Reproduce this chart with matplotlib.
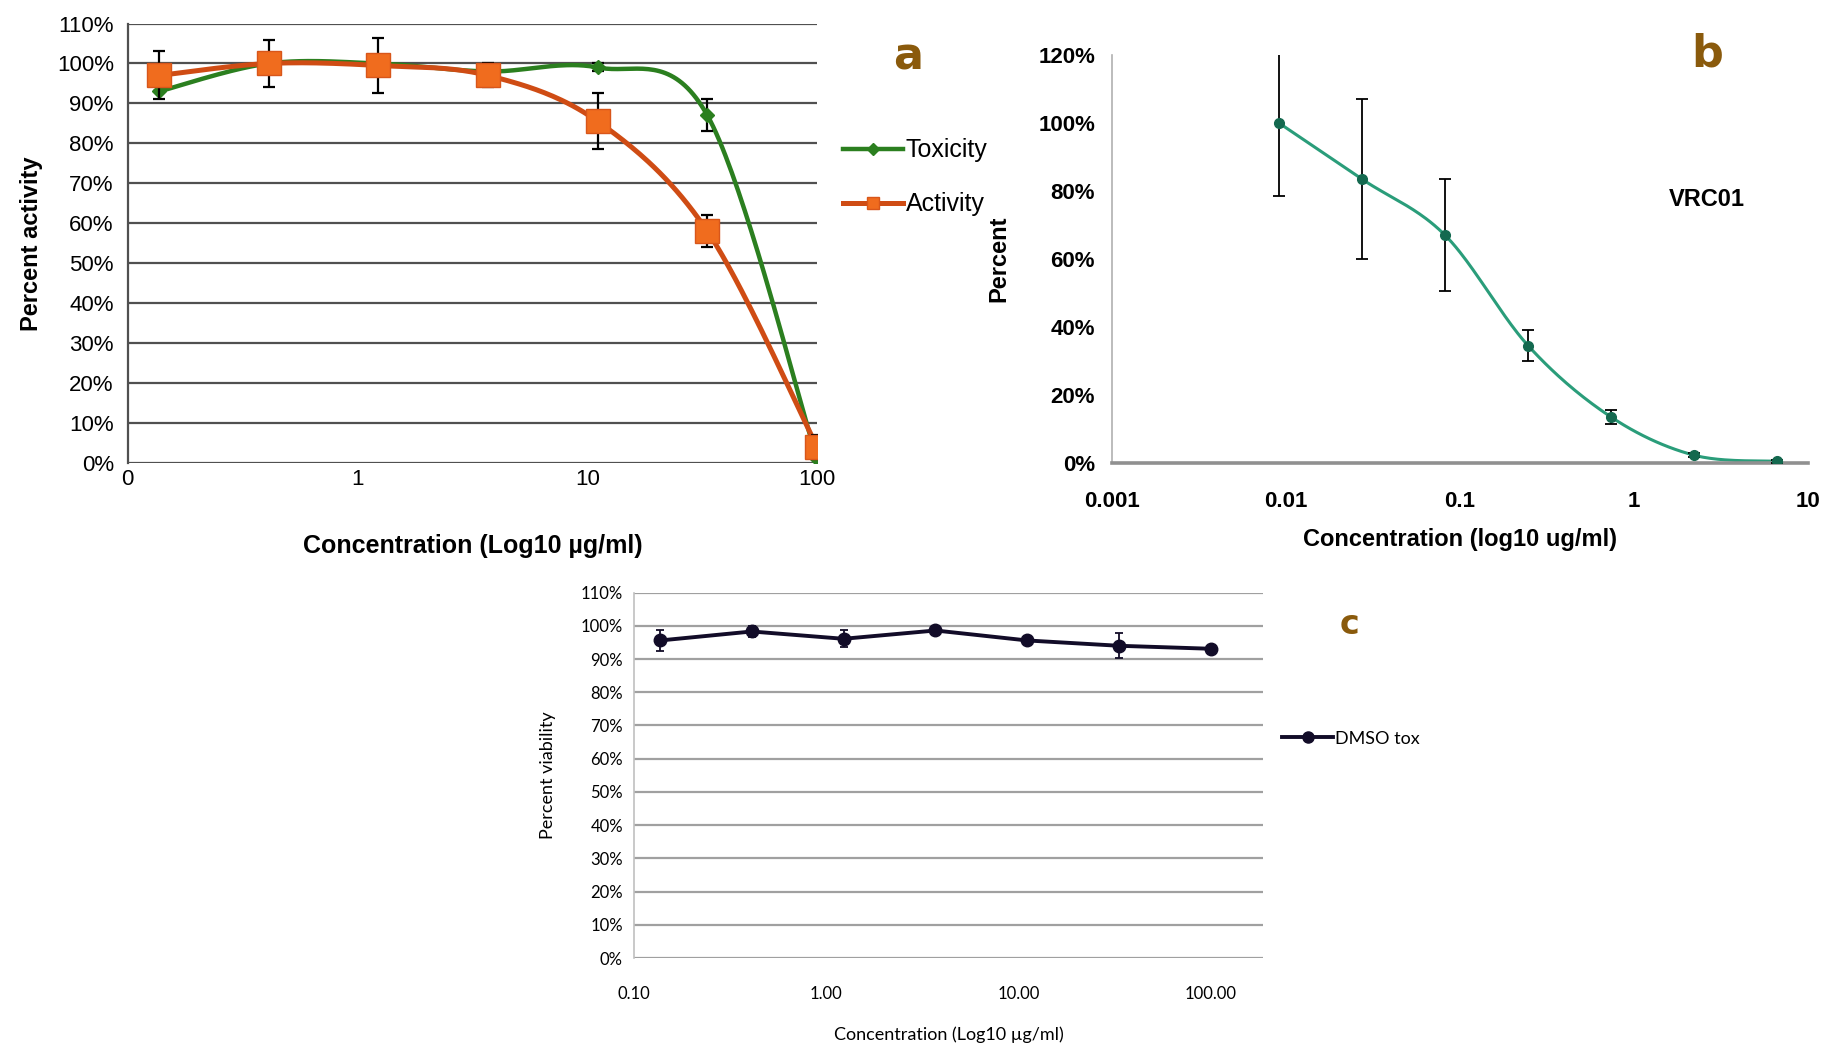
import numpy as np
import matplotlib
matplotlib.use("Agg")
from matplotlib import pyplot as plt
from matplotlib.lines import Line2D
from matplotlib.ticker import FixedLocator, FixedFormatter

# ---------- data
conc_a = [0.137, 0.41, 1.23, 3.7, 11.1, 33.3, 100]
tox = [93, 100, 100, 98, 99, 87, 1]
tox_err = [0, 0, 0, 0, 1, 4, 0]
act = [97, 100, 99.5, 97, 85.5, 58, 4]
act_err = [6, 6, 7, 3, 7, 4, 3]

conc_b = [0.00914, 0.0274, 0.0823, 0.247, 0.741, 2.22, 6.67]
vrc = [100, 83.5, 67, 34.5, 13.5, 2.3, 0.5]
vrc_err = [21.5, 23.5, 16.5, 4.5, 2, 0.6, 0.4]

conc_c = [0.137, 0.41, 1.23, 3.7, 11.1, 33.3, 100]
dmso = [95.6, 98.3, 96.1, 98.6, 95.6, 94.0, 93.1]
dmso_err = [3.2, 1.8, 2.5, 1.0, 1.2, 3.7, 0.5]

LETTER = "#8a5a0c"
NARROW = ["Liberation Sans", "DejaVu Sans"]
CAL = ["Lato", "DejaVu Sans"]


def smooth(x, y, n=40):
    # excel-like smoothed line (catmull-rom in log-x space)
    pts = np.column_stack([np.log10(x), y])
    P = np.vstack([pts[0], pts, pts[-1]])
    t = np.linspace(0, 1, n)[:, None]
    out = []
    for i in range(1, len(P) - 2):
        p0, p1, p2, p3 = P[i - 1], P[i], P[i + 1], P[i + 2]
        seg = 0.5 * (2 * p1 + (-p0 + p2) * t + (2 * p0 - 5 * p1 + 4 * p2 - p3) * t ** 2
                     + (-p0 + 3 * p1 - 3 * p2 + p3) * t ** 3)
        out.append(seg)
    res = np.vstack(out)
    return 10 ** res[:, 0], res[:, 1]


fig = plt.figure(figsize=(18.24, 10.5), dpi=100)

########### PANEL A
ax = fig.add_axes([0.070, 0.559, 0.378, 0.4186])
ax.set_xscale("log")
ax.set_xlim(0.1, 100)
ax.set_ylim(0, 110)
for v in range(0, 111, 10):
    ax.axhline(v, color="#505050", lw=1.6, zorder=0)
sx, sy = smooth(conc_a, tox)
ax.plot(sx, sy, color="#2b7f1f", lw=3.2, zorder=2)
sx, sy = smooth(conc_a, act)
ax.plot(sx, sy, color="#cf4c14", lw=3.6, zorder=3)
ax.errorbar(conc_a, tox, yerr=tox_err, fmt="D", ms=7, color="#2b7f1f",
            ecolor="black", elinewidth=1.6, capsize=4, capthick=1.6, zorder=4)
ax.errorbar(conc_a, act, yerr=act_err, fmt="s", ms=17, mfc="#f06c1e", mec="#d8561a",
            ecolor="black", elinewidth=1.6, capsize=4, capthick=1.6, zorder=5)
handles_a = [
    Line2D([], [], color="#2b7f1f", lw=3.2, marker="D", ms=6),
    Line2D([], [], color="#cf4c14", lw=3.6, marker="s", ms=9, mfc="#f06c1e", mec="#d8561a"),
]
ax.legend(handles_a, ["Toxicity", "Activity"], loc="upper left", bbox_to_anchor=(1.005, 0.79),
          frameon=False, prop={"family": NARROW, "size": 18}, handlelength=2.4,
          handletextpad=0.1, labelspacing=1.2)
ax.xaxis.set_major_locator(FixedLocator([0.1, 1, 10, 100]))
ax.xaxis.set_major_formatter(FixedFormatter(["0", "1", "10", "100"]))
ax.xaxis.set_minor_locator(FixedLocator([]))
ax.set_yticks(range(0, 111, 10))
ax.set_yticklabels([f"{v}%" for v in range(0, 111, 10)])
ax.tick_params(axis="y", length=0, labelsize=16, pad=10)
ax.tick_params(axis="x", length=0, labelsize=16, pad=4)
for lab in ax.get_xticklabels() + ax.get_yticklabels():
    lab.set_family(NARROW)
for s in ["top", "right", "bottom"]:
    ax.spines[s].set_visible(False)
ax.spines["left"].set_color("#505050")
ax.spines["left"].set_linewidth(1.6)
ax.set_xlabel("Concentration (Log10 µg/ml)", fontsize=18, fontweight="bold", family=NARROW,
              labelpad=32)
ax.set_ylabel("Percent activity", fontsize=17, fontweight="bold", family=NARROW, labelpad=10)
fig.text(0.498, 0.946, "a", fontsize=32, fontweight="bold", color=LETTER, ha="center", va="center")

########### PANEL B
bx = fig.add_axes([0.6095, 0.559, 0.3817, 0.3886])
bx.set_xscale("log")
bx.set_xlim(0.001, 10)
bx.set_ylim(0, 120)
sx, sy = smooth(conc_b, vrc)
bx.plot(sx, sy, color="#2a9d7a", lw=2.2, zorder=2)
bx.errorbar(conc_b, vrc, yerr=vrc_err, fmt="o", ms=7, color="#14694f",
            ecolor="black", elinewidth=1.3, capsize=4, capthick=1.3, zorder=3)
bx.xaxis.set_major_locator(FixedLocator([0.001, 0.01, 0.1, 1, 10]))
bx.xaxis.set_major_formatter(FixedFormatter(["0.001", "0.01", "0.1", "1", "10"]))
bx.xaxis.set_minor_locator(FixedLocator([]))
bx.set_yticks(range(0, 121, 20))
bx.set_yticklabels([f"{v}%" for v in range(0, 121, 20)])
bx.tick_params(axis="y", length=0, labelsize=16, pad=12)
bx.tick_params(axis="x", length=0, labelsize=16, pad=20)
for lab in bx.get_xticklabels() + bx.get_yticklabels():
    lab.set_family(NARROW)
    lab.set_fontweight("bold")
bx.spines["top"].set_visible(False)
bx.spines["right"].set_visible(False)
bx.spines["left"].set_color("#b0b0b0")
bx.spines["left"].set_linewidth(1.2)
bx.spines["bottom"].set_color("#909090")
bx.spines["bottom"].set_linewidth(2.6)
bx.set_xlabel("Concentration (log10 ug/ml)", fontsize=17, fontweight="bold", family=NARROW,
              labelpad=12)
bx.set_ylabel("Percent", fontsize=17, fontweight="bold", family=NARROW, labelpad=20)
fig.text(0.936, 0.81, "VRC01", fontsize=17, fontweight="bold", family=NARROW,
         ha="center", va="center")
fig.text(0.936, 0.949, "b", fontsize=32, fontweight="bold", color=LETTER, ha="center", va="center")

########### PANEL C
cx = fig.add_axes([0.3476, 0.0876, 0.3448, 0.348])
cx.set_xscale("log")
cx.set_xlim(0.1, 187)
cx.set_ylim(0, 110)
for v in range(0, 111, 10):
    cx.axhline(v, color="#a0a0a0", lw=1.6, zorder=0)
cx.errorbar(conc_c, dmso, yerr=dmso_err, fmt="-o", ms=9, color="#120c28", lw=2.8,
            ecolor="#120c28", elinewidth=1.3, capsize=3, capthick=1.3, zorder=3)
cx.legend([Line2D([], [], color="#120c28", lw=2.8, marker="o", ms=8)], ["DMSO tox"],
          loc="center left", bbox_to_anchor=(1.005, 0.6), frameon=False,
          prop={"family": CAL, "size": 13}, handlelength=2.8, handletextpad=0.1)
cx.xaxis.set_major_locator(FixedLocator([0.1, 1, 10, 100]))
cx.xaxis.set_major_formatter(FixedFormatter(["0.10", "1.00", "10.00", "100.00"]))
cx.xaxis.set_minor_locator(FixedLocator([]))
cx.set_yticks(range(0, 111, 10))
cx.set_yticklabels([f"{v}%" for v in range(0, 111, 10)])
cx.tick_params(axis="y", length=0, labelsize=12, pad=8)
cx.tick_params(axis="x", length=0, labelsize=12, pad=20)
for lab in cx.get_xticklabels() + cx.get_yticklabels():
    lab.set_family(CAL)
for s in ["top", "right", "bottom"]:
    cx.spines[s].set_visible(False)
cx.spines["left"].set_color("#c0c0c0")
cx.spines["left"].set_linewidth(1.2)
cx.set_xlabel("Concentration (Log10 µg/ml)", fontsize=13, family=CAL, labelpad=18)
cx.set_ylabel("Percent viability", fontsize=13, family=CAL, labelpad=18)
fig.text(0.740, 0.405, "c", fontsize=24, fontweight="bold", color=LETTER, ha="center", va="center")

fig.savefig("out.png", dpi=100)
